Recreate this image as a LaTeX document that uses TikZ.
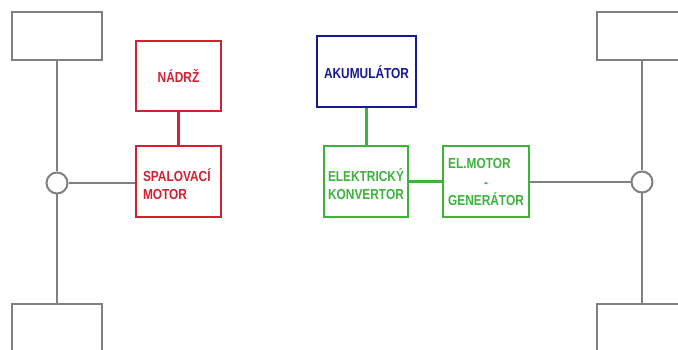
\documentclass[tikz,border=0pt]{standalone}
\usepackage{fontspec}
\usepackage{calc}
\setmainfont{Liberation Sans}
\newfontfamily\cadfont{Liberation Sans Bold}[FakeStretch=0.82]
\definecolor{cgray}{RGB}{128,128,128}
\definecolor{cred}{RGB}{212,32,48}
\definecolor{cgreen}{RGB}{60,180,60}
\definecolor{cblue}{RGB}{24,24,150}
\begin{document}
\begin{tikzpicture}[x=1pt,y=-1pt,
  wheel/.style={draw=cgray,line width=2.2pt,minimum width=90pt,minimum height=48pt,inner sep=0pt},
  hub/.style={draw=cgray,line width=2pt,circle,minimum size=21pt,inner sep=0pt,fill=white},
  gline/.style={draw=cgray,line width=2.2pt},
  blk/.style={draw,line width=2.2pt,inner sep=0pt},
  txt/.style={font=\fontsize{14.5}{18.5}\cadfont,inner sep=0pt},
  redbox/.style={blk,draw=cred},
  greenbox/.style={blk,draw=cgreen},
  bluebox/.style={blk,draw=cblue}]
\useasboundingbox (0,0) rectangle (678,350);
\clip (0,0) rectangle (678,350);
\fill[white] (0,0) rectangle (678,350);
% wheels
\node[wheel] (wlt) at (57,36) {};
\node[wheel] (wlb) at (57,328) {};
\node[wheel] (wrt) at (642,36) {};
\node[wheel] (wrb) at (642,328) {};
\node[hub] (hl) at (57,183) {};
\node[hub] (hr) at (642,182) {};
% blocks
\node[redbox,minimum width=85pt,minimum height=70pt,
  label={[txt,text=cred]center:NÁDRŽ}] (nadrz) at (178.5,76) {};
\node[redbox,minimum width=85pt,minimum height=71pt,
  label={[txt,text=cred,text width=71pt,align=left,yshift=-2.5pt]center:SPALOVACÍ\\MOTOR}] (spal) at (178.5,181.5) {};
\node[bluebox,minimum width=99pt,minimum height=71pt,
  label={[txt,text=cblue,yshift=-0.5pt]center:AKUMULÁTOR}] (aku) at (366.5,71.5) {};
\node[greenbox,minimum width=84pt,minimum height=71pt,
  label={[txt,text=cgreen,align=center,yshift=-2.5pt]center:ELEKTRICKÝ\\KONVERTOR}] (elk) at (366,181.5) {};
\node[greenbox,minimum width=86pt,minimum height=71pt,
  label={[txt,text=cgreen,align=left,yshift=-1pt]center:EL.MOTOR\\\makebox[\widthof{GENERÁTOR}]{-}\\GENERÁTOR}] (elm) at (486,181.5) {};
% connectors
\draw[gline] (wlt.south) -- (hl.north);
\draw[gline] (hl.south) -- (wlb.north);
\draw[gline] (wrt.south) -- (hr.north);
\draw[gline] (hr.south) -- (wrb.north);
\draw[gline] (hl.east) -- (hl.east -| spal.west);
\draw[gline] (elm.east |- hr.west) -- (hr.west);
\draw[draw=cred,line width=2.2pt] (nadrz.south) -- (spal.north);
\draw[draw=cgreen,line width=2.2pt] (aku.south) -- (aku.south |- elk.north);
\draw[draw=cgreen,line width=2.2pt] (elk.east |- elm.west) -- (elm.west);
\end{tikzpicture}
\end{document}
